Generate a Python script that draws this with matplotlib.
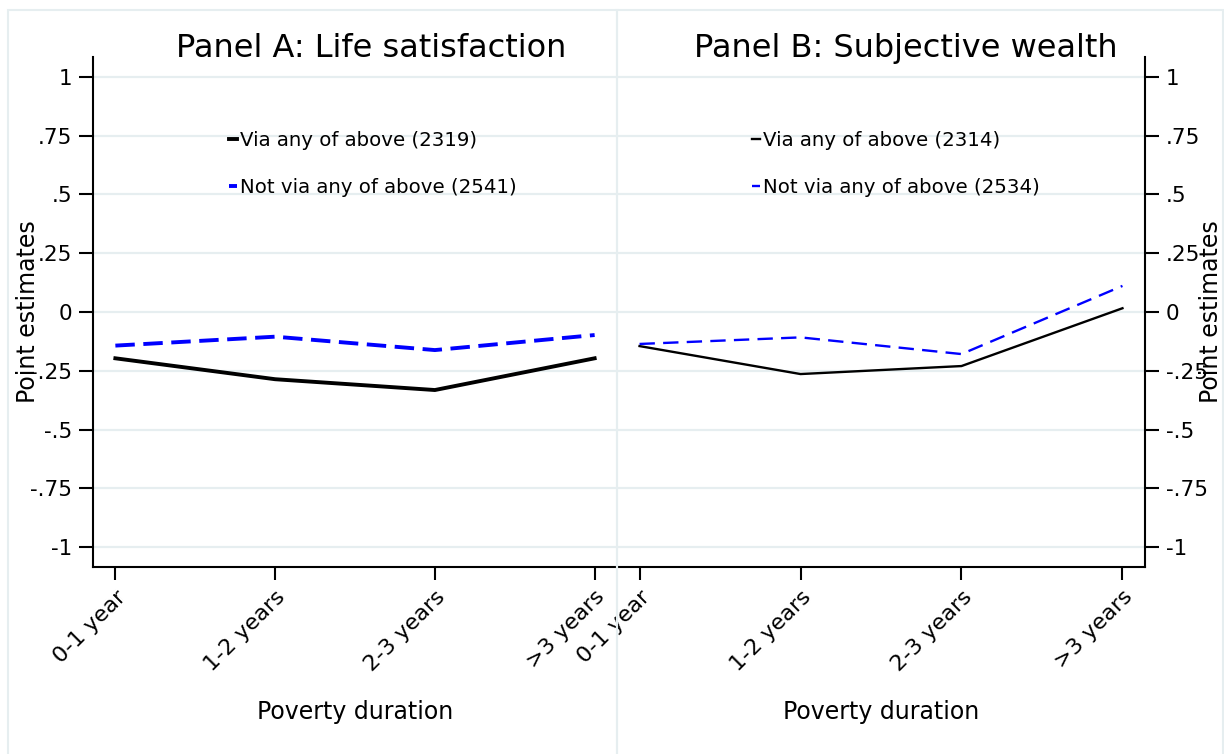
import matplotlib
matplotlib.use("Agg")
import matplotlib.pyplot as plt
from matplotlib.patches import Rectangle

# Point estimates by poverty duration
durations = ['0-1 year', '1-2 years', '2-3 years', '>3 years']
ytick_vals = [1, 0.75, 0.5, 0.25, 0, -0.25, -0.5, -0.75, -1]
ytick_text = ['1', '.75', '.5', '.25', '0', '-.25', '-.5', '-.75', '-1']

life_via = [-0.197, -0.286, -0.332, -0.197]
life_not = [-0.143, -0.105, -0.162, -0.098]
wealth_via = [-0.145, -0.264, -0.230, 0.016]
wealth_not = [-0.136, -0.108, -0.179, 0.111]

legend_a = ['Via any of above (2319)', 'Not via any of above (2541)']
legend_b = ['Via any of above (2314)', 'Not via any of above (2534)']

plt.rcParams['font.family'] = ['DejaVu Sans']
GRID = '#E6EEF0'

fig = plt.figure(figsize=(12.24, 7.54), dpi=100)
fig.patch.set_facecolor('white')

# graph region borders of the two subgraphs (bottom edge falls off the canvas)
for x0, w in [(8 / 1224, 609 / 1224), (617 / 1224, 606 / 1224)]:
    fig.add_artist(Rectangle((x0, -10 / 754), w, 754 / 754, transform=fig.transFigure,
                             fill=False, edgecolor=GRID, linewidth=1.5))

axA = fig.add_axes([93 / 1224, 1 - 567 / 754, 524 / 1224, 510 / 754])
axB = fig.add_axes([617 / 1224, 1 - 567 / 754, 528 / 1224, 510 / 754])
axA.patch.set_alpha(0)
axB.patch.set_alpha(0)

xs = list(range(len(durations)))


def style(ax, side, title, title_x):
    ax.set_xlim(-0.14, 3.14)
    ax.set_ylim(-1.085, 1.085)
    ax.set_yticks(ytick_vals)
    ax.set_yticklabels(ytick_text)
    ax.set_xticks(xs)
    ax.set_xticklabels(durations, rotation=45, ha='right', va='top',
                       rotation_mode='anchor')
    ax.grid(axis='y', color=GRID, linewidth=1.6)
    ax.set_axisbelow(True)
    for s in ['top', 'left', 'right']:
        ax.spines[s].set_visible(False)
    ax.spines['bottom'].set_linewidth(1.5)
    ax.spines[side].set_visible(True)
    ax.spines[side].set_linewidth(1.5)
    ax.tick_params(axis='y', length=10, width=1.5, pad=5, labelsize=15.5)
    ax.tick_params(axis='x', length=9, width=1.5, pad=5, labelsize=16)
    if side == 'right':
        ax.yaxis.tick_right()
        ax.yaxis.set_label_position('right')
    ax.set_ylabel('Point estimates', fontsize=17, rotation=90)
    ax.yaxis.label.set_verticalalignment('center')
    ax.yaxis.label.set_horizontalalignment('center')
    if side == 'right':
        ax.yaxis.set_label_coords(1.125, 0.5)
    else:
        ax.yaxis.set_label_coords(-0.124, 0.5)
    ax.set_xlabel('Poverty duration', fontsize=17)
    ax.xaxis.label.set_verticalalignment('center')
    ax.xaxis.set_label_coords(0.5, -0.285)
    ax.text(title_x, 1.0, title, transform=ax.transAxes, fontsize=23,
            ha='center', va='baseline')


axA.plot(xs, life_via, color='black', linewidth=2.8, label=legend_a[0])
axA.plot(xs, life_not, color='#0000FF', linewidth=2.8, dashes=(5, 2.2),
         label=legend_a[1])
style(axA, 'left', 'Panel A: Life satisfaction', 0.531)

axB.plot(xs, wealth_via, color='black', linewidth=1.7, label=legend_b[0])
axB.plot(xs, wealth_not, color='#0000FF', linewidth=1.7, dashes=(6.5, 3.5),
         label=legend_b[1])
style(axB, 'right', 'Panel B: Subjective wealth', 0.547)

for ax, lx in [(axA, 0.2595), (axB, 0.2557)]:
    ax.legend(loc='center left', bbox_to_anchor=(lx, 0.79), frameon=False,
              fontsize=14.2, handlelength=0.4, handletextpad=0.15,
              labelspacing=1.4, borderpad=0, borderaxespad=0)

fig.savefig('out.png', dpi=100, facecolor='white')
